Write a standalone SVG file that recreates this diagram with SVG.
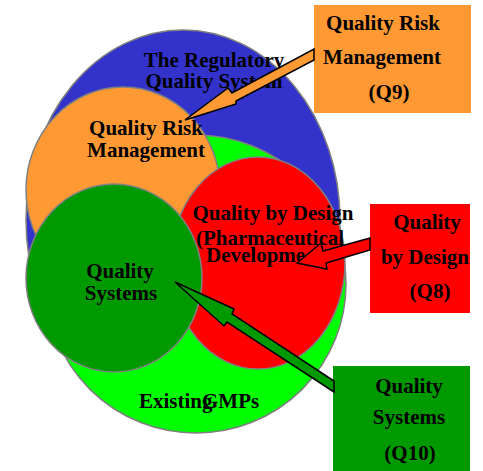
<svg xmlns="http://www.w3.org/2000/svg" width="483" height="471" viewBox="0 0 483 471">
  <style>
    .area { stroke: #808080; stroke-width: 1.5; }
    .lbl { font-family: "Liberation Serif", "Times New Roman", serif; font-weight: bold; font-size: 21px; fill: #000; text-anchor: middle; }
    .left { text-anchor: start; }
    .arrow { stroke: #000; stroke-width: 1.5; stroke-linejoin: miter; }
  </style>

  <rect width="483" height="471" fill="#ffffff"/>

  <!-- overlapping quality areas -->
  <g id="regulatory-system">
    <ellipse class="area" cx="183" cy="220" rx="157" ry="190" fill="#3333cc"/>
  </g>
  <g id="existing-gmps">
    <ellipse class="area" cx="196" cy="284" rx="150" ry="149" fill="#00ff00"/>
  </g>
  <g id="risk-management">
    <ellipse class="area" cx="123" cy="190" rx="97" ry="103" fill="#ff9933"/>
  </g>
  <g id="quality-by-design">
    <ellipse class="area" cx="258" cy="263" rx="87" ry="106" fill="#ff0000"/>
  </g>
  <g id="quality-systems">
    <ellipse class="area" cx="114" cy="278" rx="88" ry="94" fill="#009900"/>
  </g>

  <!-- area labels -->
  <g id="area-labels">
    <text class="lbl" x="214" y="67">The Regulatory</text>
    <text class="lbl" x="214" y="88">Quality System</text>
    <text class="lbl" x="146" y="135">Quality Risk</text>
    <text class="lbl" x="146" y="157">Management</text>
    <text class="lbl" x="273" y="220">Quality by Design</text>
    <text class="lbl" x="270" y="245">(Pharmaceutical</text>
    <text class="lbl left" x="206" y="262">Developme</text>
    <text class="lbl" x="120" y="278">Quality</text>
    <text class="lbl" x="121" y="300">Systems</text>
    <text class="lbl left" x="139" y="408">Existing</text>
    <text class="lbl left" x="202" y="408">GMPs</text>
  </g>

  <!-- guideline boxes -->
  <g id="box-q9">
    <rect x="314" y="5" width="157" height="108" fill="#ff9933"/>
    <text class="lbl" x="383" y="30">Quality Risk</text>
    <text class="lbl" x="382" y="64">Management</text>
    <text class="lbl" x="389" y="99">(Q9)</text>
  </g>
  <g id="box-q8">
    <rect x="370" y="204" width="100" height="109" fill="#ff0000"/>
    <text class="lbl" x="427" y="229">Quality</text>
    <text class="lbl" x="425" y="264">by Design</text>
    <text class="lbl" x="430" y="298">(Q8)</text>
  </g>
  <g id="box-q10">
    <rect x="333" y="366" width="137" height="105" fill="#009900"/>
    <text class="lbl" x="409" y="393">Quality</text>
    <text class="lbl" x="409" y="424">Systems</text>
    <text class="lbl" x="410" y="460">(Q10)</text>
  </g>

  <!-- connectors: arrows from each box into its area -->
  <g id="connectors">
    <polygon class="arrow" fill="#ff9933"
      points="185,120 228,88 232,93 314,49 314,60 236,101 236,104"/>
    <polygon class="arrow" fill="#ff0000"
      points="297,263 321,243 323,251 370,238 370,250 326,263 327,269"/>
    <polygon class="arrow" fill="#009900"
      points="175,282 234,309 232,314 334,381 334,392 227,322 224,326"/>
  </g>
</svg>
